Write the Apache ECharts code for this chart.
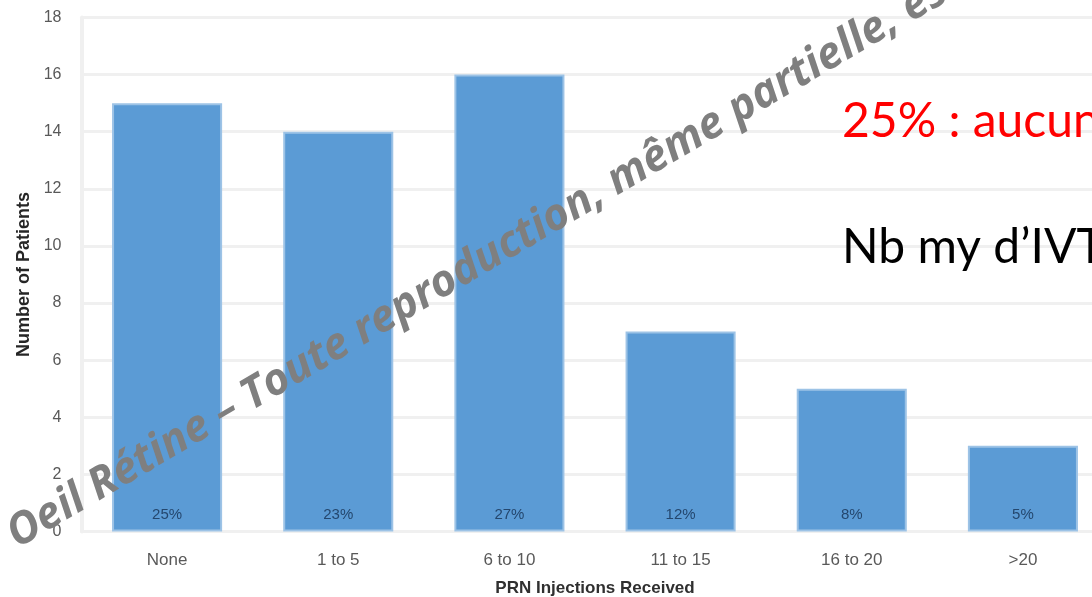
<!DOCTYPE html>
<html>
<head>
<meta charset="utf-8">
<script src="https://cdn.jsdelivr.net/npm/echarts@6/dist/echarts.min.js"></script>
<style>
  html, body { margin: 0; padding: 0; background: #ffffff; }
  #chart { width: 1092px; height: 597px; }
</style>
</head>
<body>
<div id="chart"></div>
<script>
// Patients grouped by number of PRN injections received
const categories = ['None', '1 to 5', '6 to 10', '11 to 15', '16 to 20', '>20'];
const patients = [15, 14, 16, 7, 5, 3];
const shareLabels = ['25%', '23%', '27%', '12%', '8%', '5%'];
const yTicks = { min: 0, max: 18, interval: 2 };

const chart = echarts.init(document.getElementById('chart'));

const axisFont = '"Liberation Sans", Arial, sans-serif';
const gridGrey = '#f0f0f0';

chart.setOption({
  backgroundColor: '#ffffff',
  animation: false,
  grid: {
    left: 81.5, right: -16.5, top: 17.5, bottom: 65.5,
    containLabel: false,
    outerBoundsMode: 'none'
  },
  xAxis: {
    type: 'category',
    data: categories,
    name: 'PRN Injections Received',
    nameLocation: 'middle',
    nameGap: 48,
    nameTextStyle: { fontFamily: axisFont, fontWeight: 'bold', fontSize: 17, color: '#303030' },
    axisLine: { lineStyle: { color: gridGrey, width: 3 } },
    axisTick: { show: false },
    axisLabel: { fontFamily: axisFont, fontSize: 17, color: '#595959', margin: 20 }
  },
  yAxis: {
    type: 'value',
    min: yTicks.min,
    max: yTicks.max,
    interval: yTicks.interval,
    name: 'Number of Patients',
    nameLocation: 'middle',
    nameGap: 48,
    nameTextStyle: { fontFamily: axisFont, fontWeight: 'bold', fontSize: 18, color: '#262626' },
    axisLine: { show: true, lineStyle: { color: gridGrey, width: 4 } },
    axisTick: { show: false },
    axisLabel: { fontFamily: axisFont, fontSize: 16, color: '#595959', margin: 20 },
    splitLine: { lineStyle: { color: gridGrey, width: 3 } }
  },
  series: [{
    type: 'bar',
    data: patients,
    barCategoryGap: '35.7%',
    itemStyle: { color: '#5b9bd5', borderColor: '#9dc3e6', borderWidth: 2 },
    label: {
      show: true,
      position: 'insideBottom',
      distance: 9,
      fontFamily: axisFont,
      fontSize: 15,
      color: '#24476e',
      formatter: p => shareLabels[p.dataIndex]
    }
  }],
  graphic: [
    {
      type: 'text',
      left: 842, top: 98,
      style: {
        text: '25% : aucune',
        fontFamily: 'Lato, sans-serif',
        fontSize: 48,
        fill: '#ff0000'
      },
      z: 10
    },
    {
      type: 'text',
      left: 842, top: 224,
      style: {
        text: 'Nb my d’IVT',
        fontFamily: 'Lato, sans-serif',
        fontSize: 48,
        fill: '#000000'
      },
      z: 10
    },
    {
      type: 'text',
      x: 22, y: 557,
      rotation: 30.5 * Math.PI / 180,
      style: {
        text: 'Oeil Rétine – Toute reproduction, même partielle, est interdite',
        fontFamily: '"Open Sans", sans-serif',
        fontStyle: 'italic',
        fontWeight: 'bold',
        fontSize: 44,
        fill: '#7f7f7f',
        verticalAlign: 'bottom'
      },
      z: 20
    }
  ]
});
</script>
</body>
</html>
